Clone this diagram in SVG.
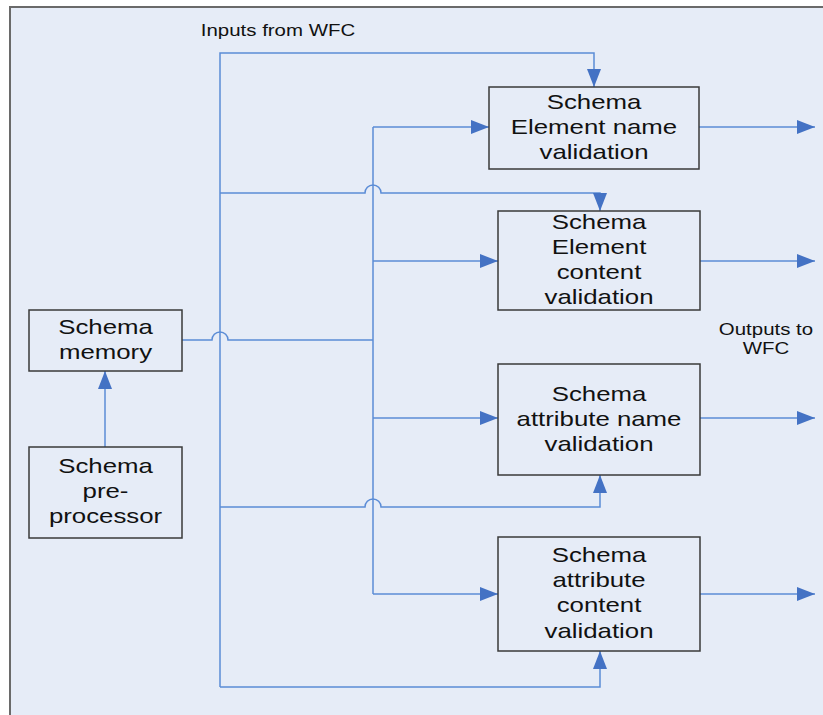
<svg xmlns="http://www.w3.org/2000/svg" width="823" height="715" viewBox="0 0 823 715">
  <style>
    .box { fill: none; stroke: #3a3a3a; stroke-width: 1.5; }
    .wire { fill: none; stroke: #5b8cd6; stroke-width: 1.5; }
    .lbl { font-family: "Liberation Sans", Arial, sans-serif; font-size: 20px; fill: #111; text-anchor: middle; }
    .note { font-family: "Liberation Sans", Arial, sans-serif; font-size: 16.5px; fill: #111; text-anchor: middle; }
  </style>
  <defs>
    <marker id="arrow" markerUnits="userSpaceOnUse" markerWidth="20" markerHeight="16" refX="18" refY="7" orient="auto">
      <path d="M0,0 L18,7 L0,14 z" fill="#4472c4"/>
    </marker>
  </defs>

  <!-- canvas -->
  <rect x="0" y="0" width="823" height="715" fill="#ffffff"/>
  <rect x="10" y="7" width="830" height="720" fill="#e6ecf7" stroke="#6a6a6a" stroke-width="2"/>

  <!-- connectors -->
  <g id="connectors">
    <!-- main input bus -->
    <path class="wire" d="M220,687 V53 H594 V87" marker-end="url(#arrow)"/>
    <path class="wire" d="M220,193 H365 A8,8 0 0 1 381,193 H600 V211" marker-end="url(#arrow)"/>
    <path class="wire" d="M220,507 H365 A8,8 0 0 1 381,507 H600 V475" marker-end="url(#arrow)"/>
    <path class="wire" d="M220,687 H600 V651" marker-end="url(#arrow)"/>
    <!-- schema memory bus -->
    <path class="wire" d="M182,340 H212 A8,8 0 0 1 228,340 H373"/>
    <path class="wire" d="M373,127 V594"/>
    <path class="wire" d="M373,127 H489" marker-end="url(#arrow)"/>
    <path class="wire" d="M373,261 H498" marker-end="url(#arrow)"/>
    <path class="wire" d="M373,418 H498" marker-end="url(#arrow)"/>
    <path class="wire" d="M373,594 H498" marker-end="url(#arrow)"/>
    <!-- preprocessor to memory -->
    <path class="wire" d="M105,447 V371" marker-end="url(#arrow)"/>
    <!-- outputs -->
    <path class="wire" d="M699,127 H815" marker-end="url(#arrow)"/>
    <path class="wire" d="M700,261 H815" marker-end="url(#arrow)"/>
    <path class="wire" d="M700,418 H815" marker-end="url(#arrow)"/>
    <path class="wire" d="M700,594 H815" marker-end="url(#arrow)"/>
  </g>

  <!-- free labels -->
  <g id="inputs-label" transform="translate(278,0) scale(1.24,1)">
    <text class="note" x="0" y="36">Inputs from WFC</text>
  </g>
  <g id="outputs-label" transform="translate(766,0) scale(1.24,1)">
    <text class="note" x="0" y="335">Outputs to</text>
    <text class="note" x="0" y="354">WFC</text>
  </g>

  <!-- nodes -->
  <g id="schema-memory">
    <rect class="box" x="29" y="310" width="153" height="61"/>
    <g transform="translate(105.5,0) scale(1.29,1)">
      <text class="lbl" x="0" y="334">Schema</text>
      <text class="lbl" x="0" y="359">memory</text>
    </g>
  </g>

  <g id="schema-preprocessor">
    <rect class="box" x="29" y="447" width="153" height="91"/>
    <g transform="translate(105.5,0) scale(1.29,1)">
      <text class="lbl" x="0" y="473">Schema</text>
      <text class="lbl" x="0" y="498">pre-</text>
      <text class="lbl" x="0" y="523">processor</text>
    </g>
  </g>

  <g id="element-name-validation">
    <rect class="box" x="489" y="87" width="210" height="82"/>
    <g transform="translate(594,0) scale(1.29,1)">
      <text class="lbl" x="0" y="109">Schema</text>
      <text class="lbl" x="0" y="134">Element name</text>
      <text class="lbl" x="0" y="159">validation</text>
    </g>
  </g>

  <g id="element-content-validation">
    <rect class="box" x="498" y="211" width="202" height="99"/>
    <g transform="translate(599,0) scale(1.29,1)">
      <text class="lbl" x="0" y="229">Schema</text>
      <text class="lbl" x="0" y="254">Element</text>
      <text class="lbl" x="0" y="279">content</text>
      <text class="lbl" x="0" y="304">validation</text>
    </g>
  </g>

  <g id="attribute-name-validation">
    <rect class="box" x="498" y="364" width="202" height="111"/>
    <g transform="translate(599,0) scale(1.29,1)">
      <text class="lbl" x="0" y="401">Schema</text>
      <text class="lbl" x="0" y="426">attribute name</text>
      <text class="lbl" x="0" y="451">validation</text>
    </g>
  </g>

  <g id="attribute-content-validation">
    <rect class="box" x="498" y="537" width="202" height="114"/>
    <g transform="translate(599,0) scale(1.29,1)">
      <text class="lbl" x="0" y="562">Schema</text>
      <text class="lbl" x="0" y="587">attribute</text>
      <text class="lbl" x="0" y="612">content</text>
      <text class="lbl" x="0" y="638">validation</text>
    </g>
  </g>
</svg>
